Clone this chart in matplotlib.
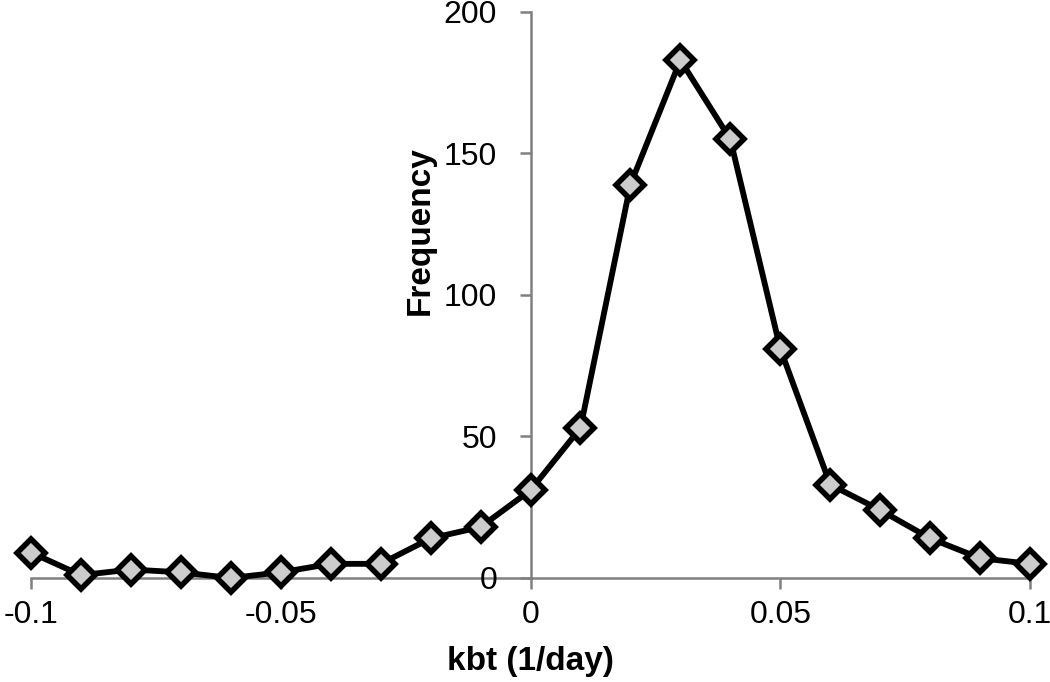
import matplotlib

matplotlib.use("Agg")
import matplotlib.pyplot as plt

plt.rcParams["font.family"] = ["Liberation Sans", "DejaVu Sans"]

# Frequency distribution of kbt values.
kbt = [-0.1, -0.09, -0.08, -0.07, -0.06, -0.05, -0.04, -0.03, -0.02, -0.01, 0.0,
       0.01, 0.02, 0.03, 0.04, 0.05, 0.06, 0.07, 0.08, 0.09, 0.1]
frequency = [9, 1, 3, 2, 0, 2, 5, 5, 14, 18, 31,
             53, 139, 183, 155, 81, 33, 24, 14, 7, 5]

x_ticks = [-0.1, -0.05, 0, 0.05, 0.1]
x_tick_labels = ["-0.1", "-0.05", "0", "0.05", "0.1"]
y_ticks = [0, 50, 100, 150, 200]

fig = plt.figure(figsize=(10.5, 6.82), dpi=100)
ax = fig.add_axes([0.0295, 0.1525, 0.9515, 0.83])

ax.plot(kbt, frequency, color="black", linewidth=4.2, marker="D", markersize=14,
        markerfacecolor="#cccccc", markeredgecolor="black", markeredgewidth=4,
        clip_on=False, zorder=3)

ax.set_xlim(-0.1, 0.1)
ax.set_ylim(0, 200)

# Excel-style axes: vertical axis crosses at x = 0.
ax.spines["left"].set_position(("data", 0))
ax.spines["top"].set_visible(False)
ax.spines["right"].set_visible(False)
for side in ["left", "bottom"]:
    ax.spines[side].set_color("#808080")
    ax.spines[side].set_linewidth(1.8)
    ax.spines[side].set_zorder(1)

ax.set_xticks(x_ticks)
ax.set_xticklabels(x_tick_labels)
ax.set_yticks(y_ticks)
ax.tick_params(axis="both", colors="#808080", labelcolor="black", labelsize=23,
               length=8, width=1.8, direction="out")
ax.tick_params(axis="x", pad=8)
ax.tick_params(axis="y", pad=16)

ax.set_xlabel("kbt (1/day)", fontsize=24, fontweight="bold")
ax.xaxis.set_label_coords(0.5, -0.120)
ax.set_ylabel("Frequency", fontsize=24, fontweight="bold")
ax.yaxis.set_label_coords(0.405, 0.613)

fig.savefig("out.png", dpi=100)
